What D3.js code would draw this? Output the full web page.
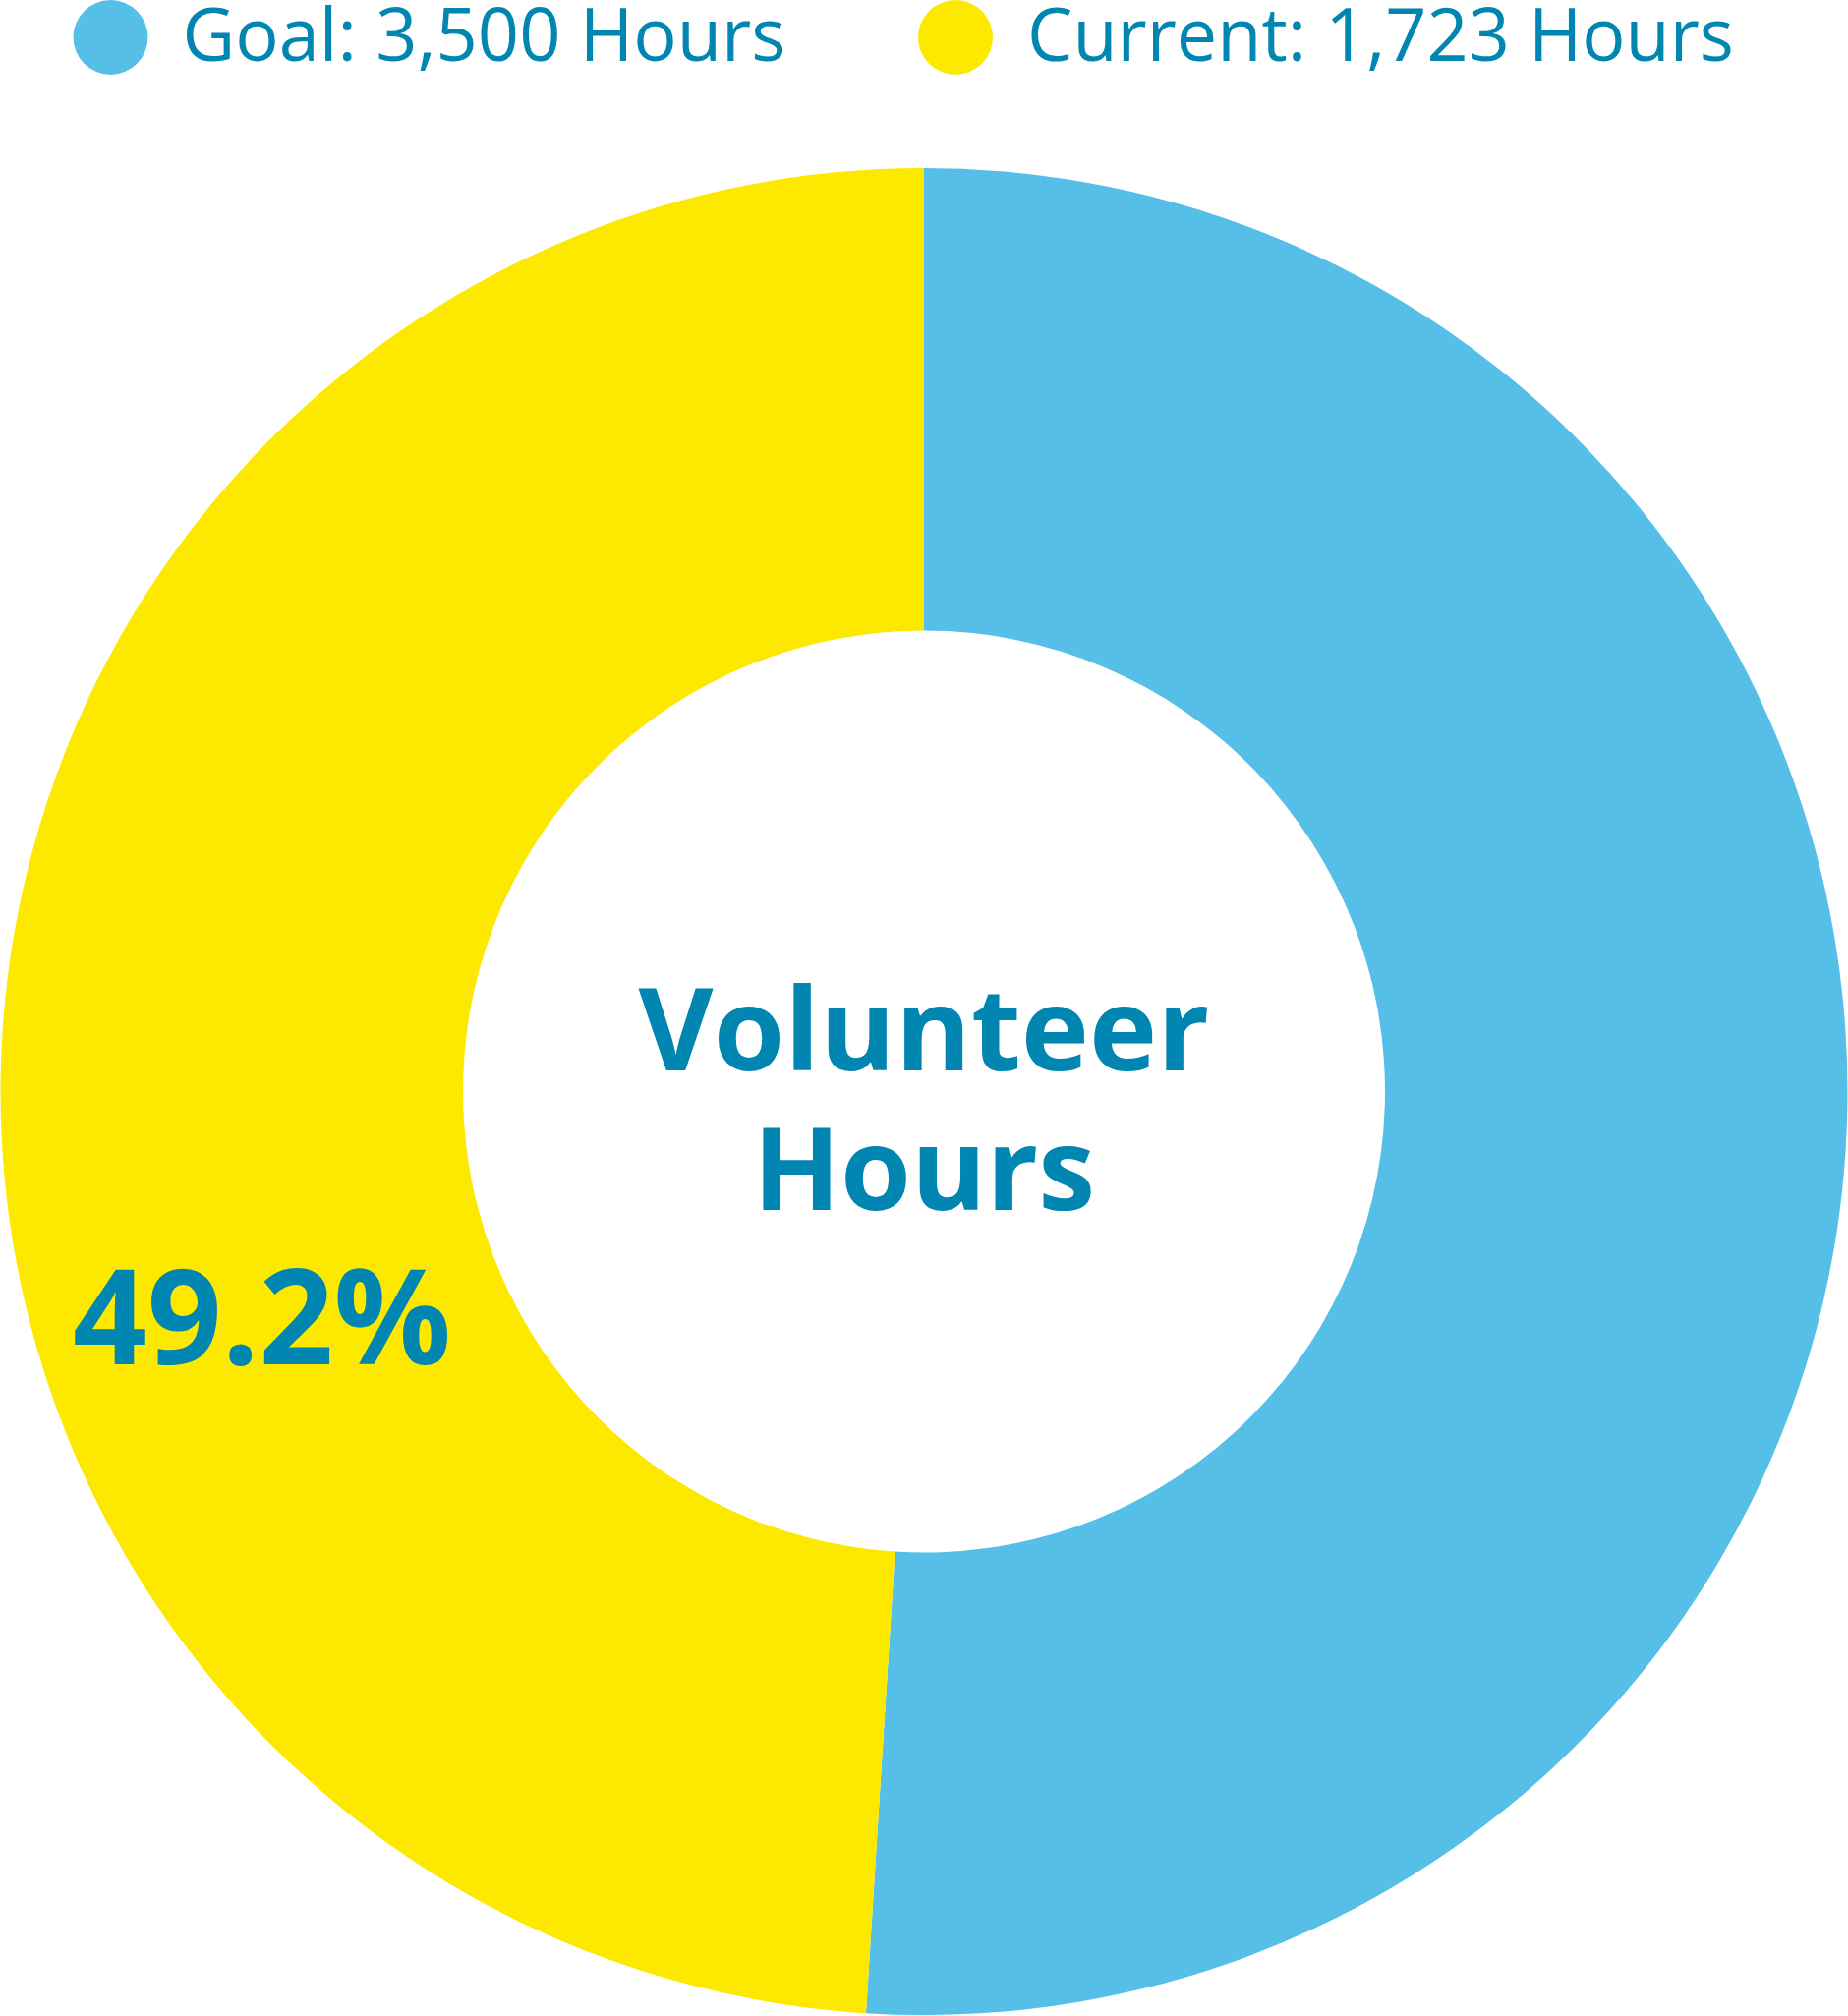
<!DOCTYPE html>
<html>
<head>
<meta charset="utf-8">
<script src="https://cdn.jsdelivr.net/npm/d3@7"></script>
<style>
  html, body { margin: 0; padding: 0; background: #fff; }
  svg { display: block; }
</style>
</head>
<body>
<svg id="chart" width="1880" height="2051"></svg>
<script>
// slices (share of the ring): remaining, current
const sliceNames = ["Remaining", "Current"];
const sliceValues = [51.0, 49.0];
const sliceColors = ["#56bfe8", "#fde800"];

// legend entries
const legendLabels = ["Goal: 3,500 Hours", "Current: 1,723 Hours"];
const legendColors = ["#56bfe8", "#fde800"];

const centerLines = ["Volunteer", "Hours"];
const percentLabel = "49.2%";

const textColor = "#0086b0";

let svg = d3.select("#chart");

const cx = 940, cy = 1110.5;
const outerR = 939.5, innerR = 469;

let pie = d3.pie().sort(null).value(d => d);
let arc = d3.arc().innerRadius(innerR).outerRadius(outerR);

let g = svg.append("g").attr("transform", `translate(${cx},${cy})`);

g.selectAll("path")
  .data(pie(sliceValues))
  .enter()
  .append("path")
  .attr("d", arc)
  .attr("fill", (d, i) => sliceColors[i]);

// legend
let legendX = [112.5, 972];
let legendW = [614, 719];
let legend = svg.append("g");
legendLabels.forEach((label, i) => {
  legend.append("circle")
    .attr("cx", legendX[i])
    .attr("cy", 38)
    .attr("r", 38)
    .attr("fill", legendColors[i]);
  legend.append("text")
    .attr("x", legendX[i] + 73)
    .attr("y", 62)
    .attr("textLength", legendW[i])
    .attr("lengthAdjust", "spacingAndGlyphs")
    .style("font-family", "'Open Sans'")
    .style("font-size", "75px")
    .style("fill", textColor)
    .text(label);
});

// center title
let lineY = [1089, 1231];
let lineW = [581, 348];
centerLines.forEach((t, i) => {
  svg.append("text")
    .attr("x", cx)
    .attr("y", lineY[i])
    .attr("text-anchor", "middle")
    .attr("textLength", lineW[i])
    .attr("lengthAdjust", "spacingAndGlyphs")
    .style("font-family", "'Open Sans'")
    .style("font-weight", "bold")
    .style("font-size", "117px")
    .style("fill", textColor)
    .text(t);
});

// percent label on the current slice
svg.append("text")
  .attr("x", 74)
  .attr("y", 1388)
  .attr("textLength", 385)
  .attr("lengthAdjust", "spacingAndGlyphs")
  .style("font-family", "'Open Sans'")
  .style("font-weight", "bold")
  .style("font-size", "135px")
  .style("fill", textColor)
  .text(percentLabel);
</script>
</body>
</html>
